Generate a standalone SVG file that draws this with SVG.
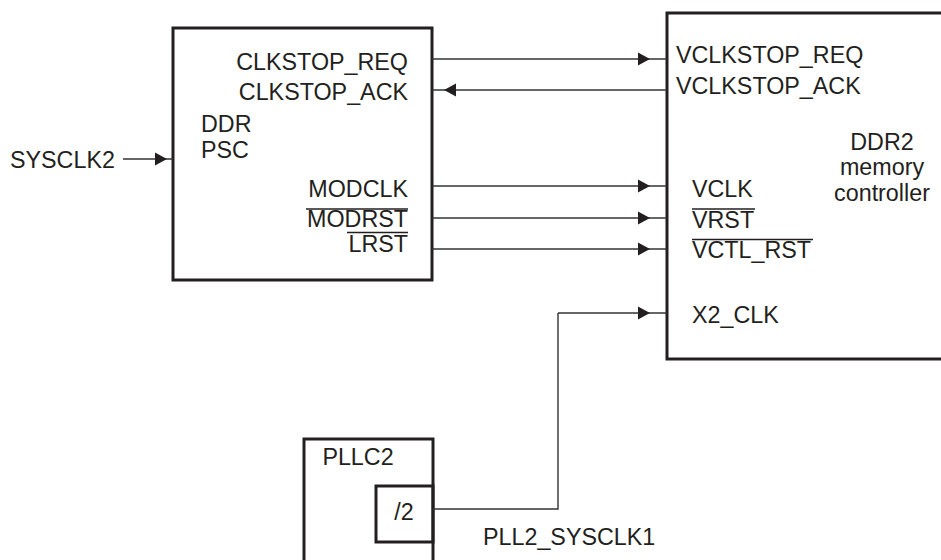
<svg xmlns="http://www.w3.org/2000/svg" width="941" height="560" viewBox="0 0 941 560">
<style>
.box{fill:none;stroke:#231f20;stroke-width:3}
.ln{fill:none;stroke:#333;stroke-width:1.4}
.t{font-family:"Liberation Sans",Arial,sans-serif;font-size:23.3px;fill:#231f20}
.ov{stroke:#231f20;stroke-width:1.6}
</style>
<defs>
<marker id="ah" markerUnits="userSpaceOnUse" markerWidth="14" markerHeight="14" refX="12" refY="6.5" orient="auto" overflow="visible">
<path d="M0,0 L12,6.5 L0,13 z" fill="#231f20"/>
</marker>
</defs>
<g id="ddr-psc">
<rect class="box" x="173" y="28" width="259" height="252"/>
<text class="t" x="408" y="70" text-anchor="end">CLKSTOP_REQ</text>
<text class="t" x="408" y="100" text-anchor="end">CLKSTOP_ACK</text>
<text class="t" x="201" y="132">DDR</text>
<text class="t" x="201" y="158">PSC</text>
<text class="t" x="408" y="197" text-anchor="end">MODCLK</text>
<text class="t" x="408" y="227" text-anchor="end">MODRST</text>
<line class="ov" x1="306" y1="209" x2="408" y2="209"/>
<text class="t" x="408" y="252" text-anchor="end">LRST</text>
<line class="ov" x1="347" y1="232.5" x2="408" y2="232.5"/>
</g>
<g id="ddr2-controller">
<rect class="box" x="667" y="13" width="290" height="346"/>
<text class="t" x="676" y="63">VCLKSTOP_REQ</text>
<text class="t" x="676" y="94">VCLKSTOP_ACK</text>
<text class="t" x="882" y="150" text-anchor="middle">DDR2</text>
<text class="t" x="882" y="175" text-anchor="middle">memory</text>
<text class="t" x="882" y="201" text-anchor="middle">controller</text>
<text class="t" x="692" y="197">VCLK</text>
<text class="t" x="692" y="228">VRST</text>
<line class="ov" x1="692" y1="209" x2="755" y2="209"/>
<text class="t" x="692" y="258">VCTL_RST</text>
<line class="ov" x1="692" y1="239.5" x2="813" y2="239.5"/>
<text class="t" x="692" y="323">X2_CLK</text>
</g>
<g id="pllc2">
<rect class="box" x="304" y="439" width="129" height="140"/>
<text class="t" x="358" y="465" text-anchor="middle">PLLC2</text>
<rect class="box" x="376" y="486" width="57" height="56"/>
<text class="t" x="404" y="520" text-anchor="middle">/2</text>
</g>
<g id="sysclk2">
<text class="t" x="10" y="168">SYSCLK2</text>
</g>
<g id="pll2-sysclk1-label">
<text class="t" x="483" y="545">PLL2_SYSCLK1</text>
</g>
<g id="connectors">
<path class="ln" d="M432,59 L650,59 L667,59" marker-mid="url(#ah)"/>
<path class="ln" d="M667,90 L444,90 L432,90" marker-mid="url(#ah)"/>
<path class="ln" d="M432,186 L650,186 L667,186" marker-mid="url(#ah)"/>
<path class="ln" d="M432,218 L650,218 L667,218" marker-mid="url(#ah)"/>
<path class="ln" d="M432,249 L650,249 L667,249" marker-mid="url(#ah)"/>
<path class="ln" d="M433,509 H558 V313"/>
<path class="ln" d="M558,313 L650,313 L667,313" marker-mid="url(#ah)"/>
<path class="ln" d="M123,159 L167,159 L173,159" marker-mid="url(#ah)"/>
</g>
</svg>
